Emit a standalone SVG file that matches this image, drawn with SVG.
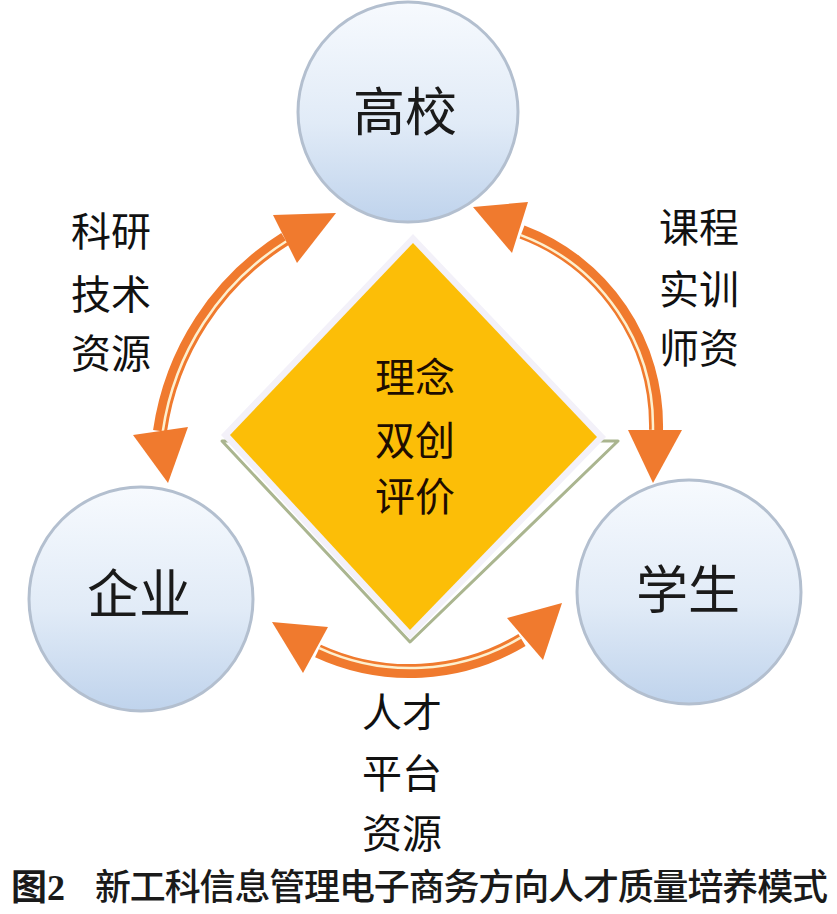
<svg xmlns="http://www.w3.org/2000/svg" width="837" height="914" viewBox="0 0 837 914">
<defs>
<linearGradient id="ballGrad" x1="0" y1="0" x2="0" y2="1">
<stop offset="0" stop-color="#f7fafe"/>
<stop offset="0.55" stop-color="#e1ebf7"/>
<stop offset="1" stop-color="#bfd3ec"/>
</linearGradient>
<style>
.ball{fill:url(#ballGrad);stroke:#b3bfcf;stroke-width:3}
.ballText{font-family:"Noto Sans CJK SC","Noto Sans",sans-serif;font-size:52px;fill:#1a1a1a;text-anchor:middle}
.lbl{font-family:"Noto Sans CJK SC","Noto Sans",sans-serif;font-size:40px;fill:#111;text-anchor:middle}
.center{font-family:"Noto Sans CJK SC","Noto Sans",sans-serif;font-size:40px;fill:#1e0d00;text-anchor:middle}
.shaft{fill:none;stroke:#f07a2e;stroke-width:14}
.stripe{fill:none;stroke:#fdf0cf;stroke-width:2.5}
.head{fill:#f07a2e}
.cap{font-family:"Noto Sans CJK SC","Noto Sans",sans-serif;font-size:36px;fill:#1a1a1a;font-weight:500}
</style>
</defs>
<rect width="837" height="914" fill="#ffffff"/>

<g id="diamond">
<polygon points="222,441 410,642 618,441" fill="none" stroke="#aab58f" stroke-width="3" stroke-linejoin="round"/>
<polygon points="413,234 606,437 410,639 221,435" fill="#f3f1f9"/>
<polygon points="413,243 597,437 410,630 230,435" fill="#fcbe07"/>
<text class="center" x="415" y="392">理念</text>
<text class="center" x="415" y="455">双创</text>
<text class="center" x="415" y="511">评价</text>
</g>

<g id="connectors">
<g id="arrow-left">
<path class="shaft" d="M160,431 A273,273 0 0,1 285,239"/>
<path class="stripe" d="M162.8,431.4 A270,270 0 0,1 286.4,241.3"/>
<polygon class="head" points="273,215 336,213 297,263"/>
<polygon class="head" points="133,435 188,427 168,483"/>
</g>
<g id="arrow-right">
<path class="shaft" d="M522,232 A207,207 0 0,1 656,430"/>
<path class="stripe" d="M520.8,235.1 A204,204 0 0,1 652.96,429.9"/>
<polygon class="head" points="473,207 528,202 512,253"/>
<polygon class="head" points="628,430 682,430 653,483"/>
</g>
<g id="arrow-bottom">
<path class="shaft" d="M318,651 A219,219 0 0,0 522,640"/>
<path class="stripe" d="M319.3,648.1 A216,216 0 0,0 520.6,637.6"/>
<polygon class="head" points="272,622 328,627 303,673"/>
<polygon class="head" points="562,603 507,618 543,660"/>
</g>
</g>

<g id="node-gaoxiao">
<circle class="ball" cx="408" cy="112" r="110"/>
<text class="ballText" x="405" y="131">高校</text>
</g>
<g id="node-qiye">
<circle class="ball" cx="141" cy="599" r="112"/>
<text class="ballText" x="139" y="613">企业</text>
</g>
<g id="node-xuesheng">
<circle class="ball" cx="689" cy="592" r="112"/>
<text class="ballText" x="688" y="609">学生</text>
</g>

<g id="labels-left">
<text class="lbl" x="111" y="246">科研</text>
<text class="lbl" x="111" y="309">技术</text>
<text class="lbl" x="111" y="368">资源</text>
</g>
<g id="labels-right">
<text class="lbl" x="699" y="242">课程</text>
<text class="lbl" x="699" y="304">实训</text>
<text class="lbl" x="699" y="363">师资</text>
</g>
<g id="labels-bottom">
<text class="lbl" x="402" y="727">人才</text>
<text class="lbl" x="402" y="788">平台</text>
<text class="lbl" x="402" y="848">资源</text>
</g>

<g id="caption">
<text x="11" y="900" font-family="'Noto Sans CJK SC',sans-serif" font-size="36" font-weight="700" fill="#1a1a1a">图<tspan font-family="'Liberation Serif',serif" font-weight="700">2</tspan></text>
<text class="cap" x="95" y="900" textLength="733" lengthAdjust="spacing">新工科信息管理电子商务方向人才质量培养模式</text>
</g>
</svg>
